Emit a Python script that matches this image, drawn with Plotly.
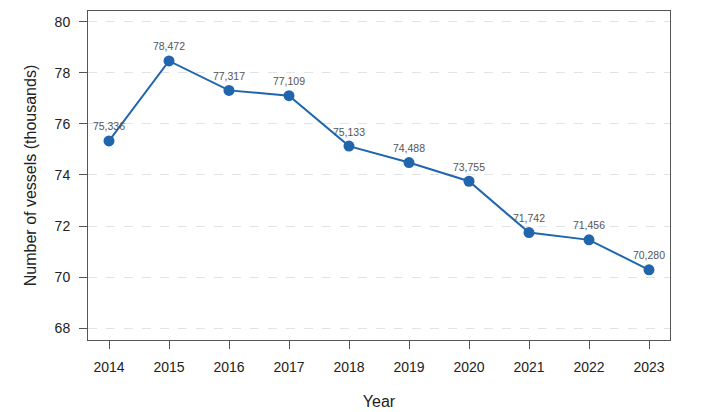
import plotly.graph_objects as go

years = [2014, 2015, 2016, 2017, 2018, 2019, 2020, 2021, 2022, 2023]
vessels = [75.336, 78.472, 77.317, 77.109, 75.133, 74.488, 73.755, 71.742, 71.456, 70.280]
labels = ["75,336", "78,472", "77,317", "77,109", "75,133", "74,488", "73,755", "71,742", "71,456", "70,280"]
y_ticks = [68, 70, 72, 74, 76, 78, 80]

fig = go.Figure()
fig.add_trace(go.Scatter(
    x=years, y=vessels, mode="lines+markers+text",
    text=labels, textposition="top center",
    textfont=dict(size=10.5, color="#555555", family="Liberation Sans, Arial"),
    line=dict(color="#2166ac", width=2),
    marker=dict(color="#2166ac", size=11),
    showlegend=False, hoverinfo="x+y",
))

fig.update_layout(
    width=706, height=412,
    margin=dict(l=80, r=44, t=3, b=80, autoexpand=False),
    paper_bgcolor="white", plot_bgcolor="white",
    font=dict(family="Liberation Sans, Arial", color="#222222"),
)
fig.update_xaxes(
    range=[2013.65, 2023.35], tickmode="array", tickvals=years,
    ticktext=[str(y) for y in years],
    ticks="outside", ticklen=8, tickcolor="#555555", ticklabelstandoff=6,
    showline=True, linecolor="#555555", linewidth=1, mirror=True,
    showgrid=False, zeroline=False,
    tickfont=dict(size=14, color="#222222"),
    title=dict(text="Year", font=dict(size=16, color="#222222"), standoff=22),
)
fig.update_yaxes(
    range=[67.53, 80.43], tickmode="array", tickvals=y_ticks,
    ticks="outside", ticklen=8, tickcolor="#555555", ticklabelstandoff=6,
    showline=True, linecolor="#555555", linewidth=1, mirror=True,
    showgrid=True, gridcolor="#e3e3e3", griddash="dash", gridwidth=1,
    zeroline=False,
    tickfont=dict(size=14, color="#222222"),
    title=dict(text="Number of vessels (thousands)", font=dict(size=16, color="#222222"), standoff=14),
)

fig.write_html("out.html")
